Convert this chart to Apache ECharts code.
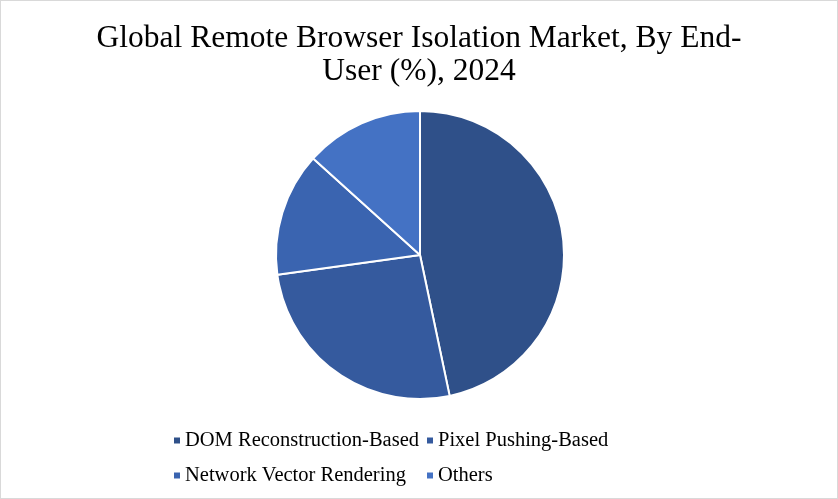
<!DOCTYPE html>
<html>
<head>
<meta charset="utf-8">
<script src="https://cdn.jsdelivr.net/npm/echarts@6/dist/echarts.min.js"></script>
<style>
html,body{margin:0;padding:0;background:#fff;}
#c{width:836px;height:497px;border:1px solid #d9d9d9;}
</style>
</head>
<body>
<div id="c"></div>
<script>
const categories = ["DOM Reconstruction-Based", "Pixel Pushing-Based", "Network Vector Rendering", "Others"];
const values = [46.7, 26.1, 13.9, 13.3];
const colors = ["#2F5089", "#355A9E", "#3A64B0", "#4472C4"];
const titleText = "Global Remote Browser Isolation Market, By End-\nUser (%), 2024";

const chart = echarts.init(document.getElementById('c'));
const font = "'Liberation Serif', 'DejaVu Serif', serif";
chart.setOption({
  animation: false,
  title: {
    text: titleText,
    left: 'center',
    top: 16,
    textStyle: {fontFamily: font, fontSize: 31.5, fontWeight: 'normal', color: '#000', lineHeight: 33}
  },
  legend: [
    {
      data: [categories[0], categories[2]],
      orient: 'vertical', left: 166, top: 424, itemGap: 14,
      itemWidth: 8, itemHeight: 8, icon: 'rect',
      textStyle: {fontFamily: font, fontSize: 20.5, color: '#000', padding: [0,0,0,-1]}
    },
    {
      data: [categories[1], categories[3]],
      orient: 'vertical', left: 419, top: 424, itemGap: 14,
      itemWidth: 8, itemHeight: 8, icon: 'rect',
      textStyle: {fontFamily: font, fontSize: 20.5, color: '#000', padding: [0,0,0,-1]}
    }
  ],
  series: [{
    type: 'pie',
    center: [419, 254],
    radius: 144,
    startAngle: 90,
    clockwise: true,
    label: {show: false},
    labelLine: {show: false},
    itemStyle: {borderColor: '#fff', borderWidth: 2},
    emphasis: {disabled: true},
    data: categories.map((n, i) => ({name: n, value: values[i], itemStyle: {color: colors[i]}}))
  }]
});
</script>
</body>
</html>
